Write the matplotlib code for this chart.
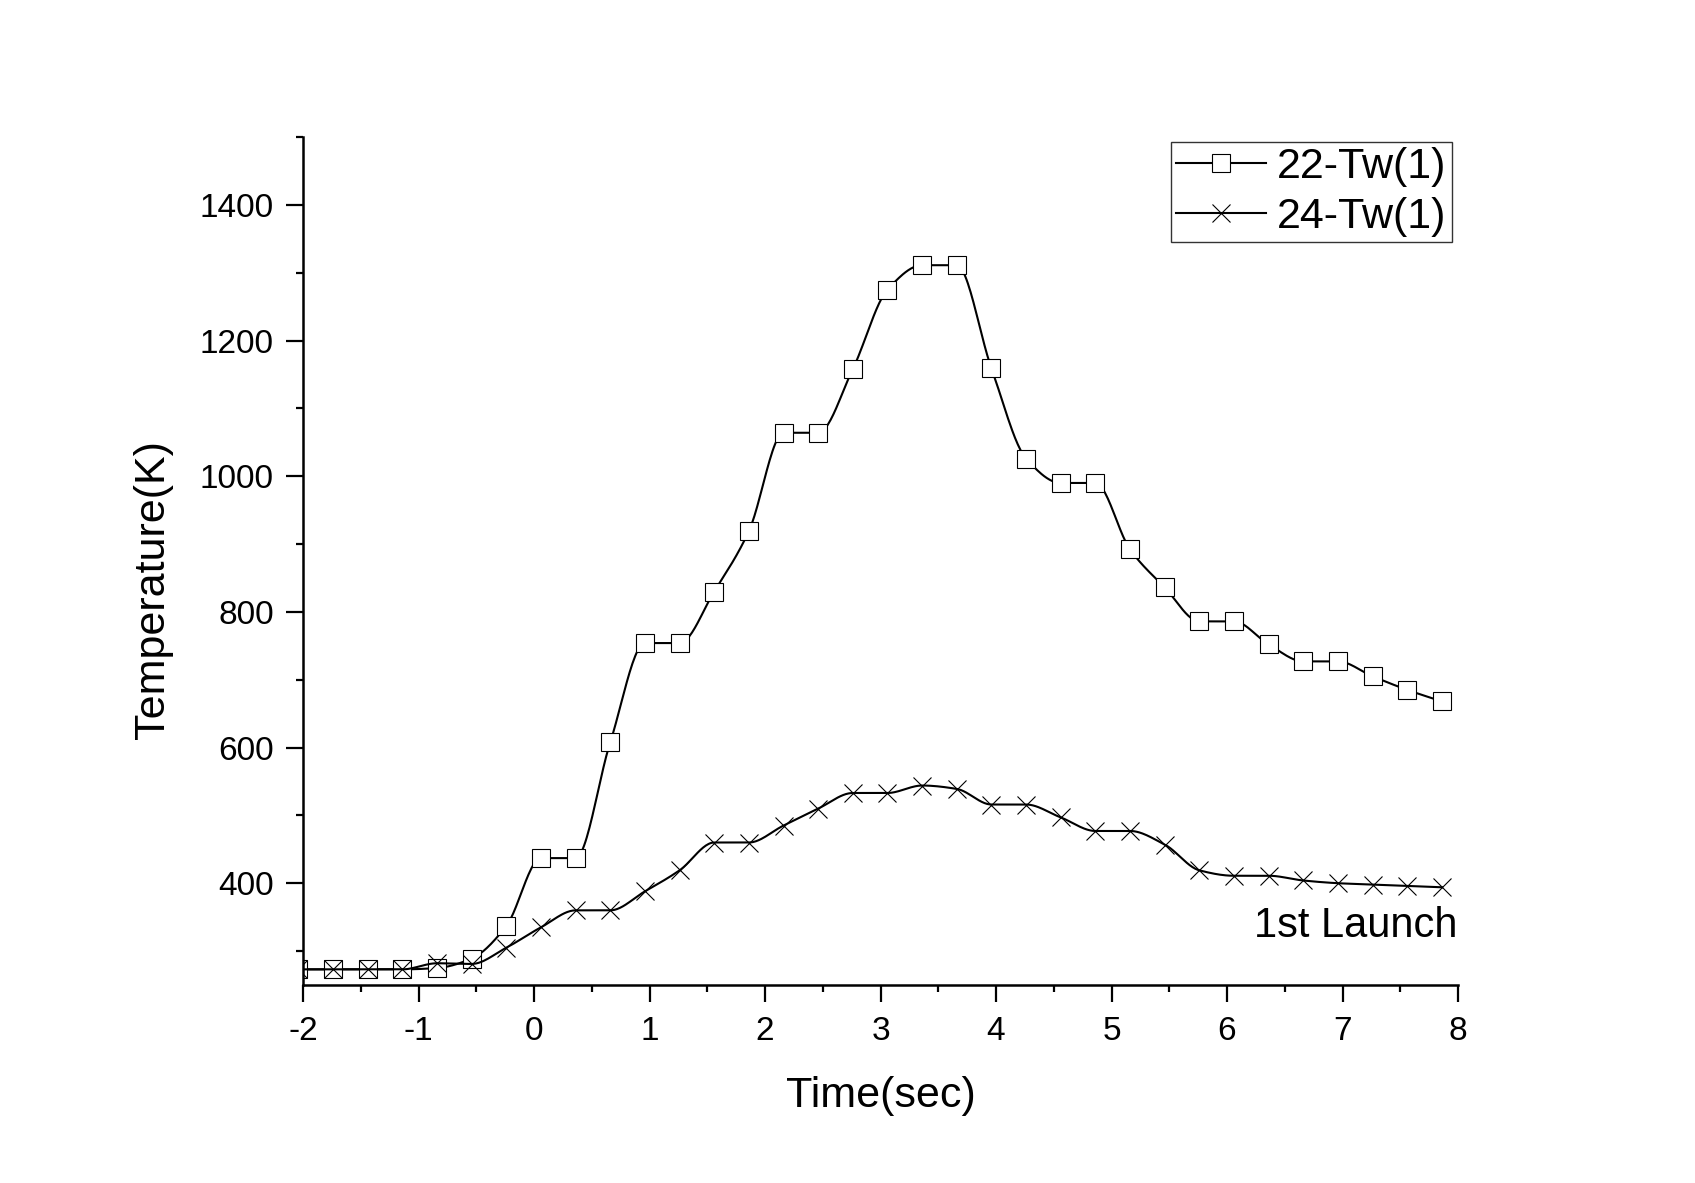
import numpy as np
import matplotlib
matplotlib.use("Agg")
import matplotlib.pyplot as plt
from matplotlib.ticker import MultipleLocator

plt.rcParams['font.family'] = ['Liberation Sans', 'DejaVu Sans']
plt.rcParams['axes.unicode_minus'] = False

# sample times (sec)
time = [-2.04, -1.74, -1.44, -1.14, -0.84, -0.54, -0.24, 0.06, 0.36, 0.66,
        0.96, 1.26, 1.56, 1.86, 2.16, 2.46, 2.76, 3.06, 3.36, 3.66,
        3.96, 4.26, 4.56, 4.86, 5.16, 5.46, 5.76, 6.06, 6.36, 6.66,
        6.96, 7.26, 7.56, 7.86]

# wall temperatures (K)
tw22 = [273, 273, 273, 273, 275, 289, 337, 437, 437, 608,
        754, 754, 830, 919, 1064, 1064, 1158, 1275, 1311, 1311,
        1159, 1026, 990, 990, 892, 836, 786, 786, 752, 727,
        727, 705, 685, 668]
tw24 = [273, 273, 273, 273, 282, 281, 305, 335, 360, 360,
        388, 419, 460, 460, 485, 510, 533, 533, 544, 539,
        516, 516, 497, 477, 477, 457, 419, 411, 411, 404,
        400, 398, 396, 394]

labels = ['22-Tw(1)', '24-Tw(1)']
markers = ['s', 'x']


def pchip_curve(x, y, n=25):
    """Monotone cubic (Fritsch-Carlson) curve through the points, for a smooth line."""
    x = np.asarray(x, float)
    y = np.asarray(y, float)
    h = np.diff(x)
    d = np.diff(y) / h
    m = np.zeros_like(y)
    for k in range(1, len(x) - 1):
        if d[k - 1] * d[k] > 0:
            w1 = 2 * h[k] + h[k - 1]
            w2 = h[k] + 2 * h[k - 1]
            m[k] = (w1 + w2) / (w1 / d[k - 1] + w2 / d[k])
    m[0] = d[0]
    m[-1] = d[-1]
    xs, ys = [], []
    for k in range(len(x) - 1):
        t = np.linspace(0, 1, n, endpoint=False)
        h00 = 2 * t**3 - 3 * t**2 + 1
        h10 = t**3 - 2 * t**2 + t
        h01 = -2 * t**3 + 3 * t**2
        h11 = t**3 - t**2
        xs.append(x[k] + t * h[k])
        ys.append(h00 * y[k] + h10 * h[k] * m[k] + h01 * y[k + 1] + h11 * h[k] * m[k + 1])
    xs.append([x[-1]])
    ys.append([y[-1]])
    return np.concatenate(xs), np.concatenate(ys)


fig = plt.figure(figsize=(16.95, 11.83), dpi=100)
ax = fig.add_axes([0.1788, 0.1674, 0.6814, 0.7168])

for yv, lab, mk in zip([tw22, tw24], labels, markers):
    cx, cy = pchip_curve(time, yv)
    ax.plot(cx, cy, color='black', lw=1.5)
    ax.plot(time, yv, linestyle='none', marker=mk, markersize=12.5,
            markerfacecolor='white', markeredgecolor='black', markeredgewidth=0.8)

# legend handles
handles = [plt.Line2D([], [], color='black', lw=1.5, marker=mk, markersize=12.5,
                      markerfacecolor='white', markeredgecolor='black',
                      markeredgewidth=0.8) for mk in markers]
leg = ax.legend(handles, labels, loc='upper right', bbox_to_anchor=(0.9945, 0.994),
                fontsize=31, frameon=True, fancybox=False, handlelength=2.1,
                handletextpad=0.25, borderpad=0.12, labelspacing=0.22, borderaxespad=0)
leg.get_frame().set_edgecolor('black')
leg.get_frame().set_linewidth(1.0)

ax.text(0.9995, 0.057, '1st Launch', transform=ax.transAxes, ha='right',
        va='baseline', fontsize=30)

ax.set_xlim(-2, 8)
ax.set_ylim(250, 1500)
ax.xaxis.set_major_locator(MultipleLocator(1))
ax.xaxis.set_minor_locator(MultipleLocator(0.5))
ax.yaxis.set_minor_locator(MultipleLocator(100))
ax.set_yticks([400, 600, 800, 1000, 1200, 1400])

for s in ['top', 'right']:
    ax.spines[s].set_visible(False)
for s in ['left', 'bottom']:
    ax.spines[s].set_linewidth(1.8)

ax.tick_params(which='major', direction='out', length=12, width=1.6, labelsize=24)
ax.tick_params(which='minor', direction='out', length=5, width=1.6)
ax.tick_params(axis='x', which='major', pad=10)
ax.tick_params(axis='y', which='major', pad=9)

ax.set_xlabel('Time(sec)', fontsize=31, labelpad=21)
ax.set_ylabel('Temperature(K)', fontsize=31)
ax.yaxis.set_label_coords(-0.1126, 0.466)

fig.savefig('out.png', dpi=100)
